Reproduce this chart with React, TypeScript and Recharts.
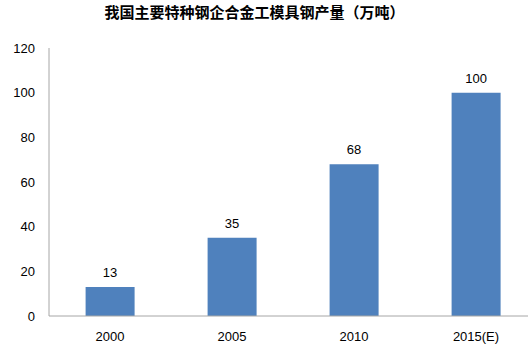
import React from "react";
import { BarChart, Bar, XAxis, YAxis, LabelList } from "recharts";

const years = ["2000", "2005", "2010", "2015(E)"];
const output = [13, 35, 68, 100];
const yTicks = [0, 20, 40, 60, 80, 100, 120];

const data = years.map((y, i) => ({ year: y, value: output[i] }));

const tickStyle = { fill: "#000", fontSize: 13, fontFamily: "'Liberation Sans', Arial, sans-serif" };

export default function App() {
  return (
    <div style={{ position: "absolute", left: 0, top: 0, width: 528, height: 350, overflow: "hidden", background: "#fff" }}>
      <div
        style={{
          position: "absolute",
          left: 0,
          top: 2,
          width: 509,
          textAlign: "center",
          fontFamily: "'Noto Sans CJK SC', sans-serif",
          fontWeight: "bold",
          fontSize: 15,
          lineHeight: "20px",
          color: "#000",
        }}
      >
        我国主要特种钢企合金工模具钢产量（万吨）
      </div>
      <BarChart width={540} height={350} data={data} margin={{ top: 48, right: 3, left: 0, bottom: 4 }} barCategoryGap="30%">
        <XAxis
          dataKey="year"
          tick={tickStyle}
          tickLine={false}
          tickMargin={10}
          axisLine={{ stroke: "#A6A6A6" }}
          height={30}
        />
        <YAxis
          domain={[0, 120]}
          ticks={yTicks}
          tick={tickStyle}
          tickLine={false}
          tickMargin={8}
          axisLine={{ stroke: "#A6A6A6" }}
          width={49}
          interval={0}
        />
        <Bar dataKey="value" fill="#4F81BD" isAnimationActive={false}>
          <LabelList dataKey="value" position="top" offset={10} style={tickStyle} />
        </Bar>
      </BarChart>
    </div>
  );
}
